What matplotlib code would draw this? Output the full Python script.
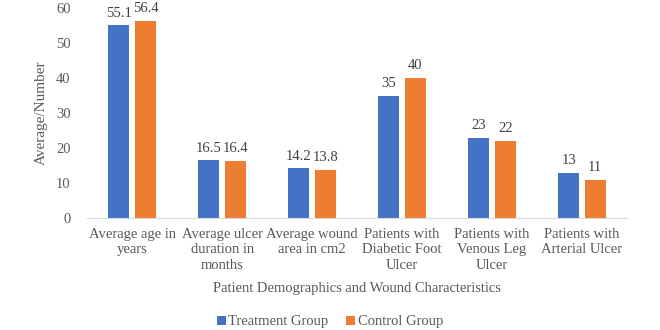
import numpy as np
import matplotlib
matplotlib.use("Agg")
import matplotlib.pyplot as plt

categories = ["Average age in\nyears", "Average ulcer\nduration in\nmonths",
              "Average wound\narea in cm2", "Patients with\nDiabetic Foot\nUlcer",
              "Patients with\nVenous Leg\nUlcer", "Patients with\nArterial Ulcer"]
treatment = [55.1, 16.5, 14.2, 35, 23, 13]
control = [56.4, 16.4, 13.8, 40, 22, 11]
treatment_labels = ["55.1", "16.5", "14.2", "35", "23", "13"]
control_labels = ["56.4", "16.4", "13.8", "40", "22", "11"]

plt.rcParams["font.family"] = ["Liberation Serif", "DejaVu Serif"]
txt = "#595959"

fig = plt.figure(figsize=(6.6, 3.3), dpi=100)
ax = fig.add_axes([0.132, 0.339, 0.818, 0.637])

x = np.arange(len(categories))
w = 0.235
b1 = ax.bar(x - w / 2 - 0.03, treatment, w, color="#4472C4", label="Treatment Group")
b2 = ax.bar(x + w / 2 + 0.03, control, w, color="#ED7D31", label="Control Group")
ax.bar_label(b1, labels=treatment_labels, padding=4, fontsize=10.5, color="#404040")
ax.bar_label(b2, labels=control_labels, padding=4, fontsize=10.5, color="#404040")

ax.set_xlim(-0.5, len(categories) - 0.5)
ax.set_ylim(0, 60)
ax.set_yticks(range(0, 61, 10))
ax.set_xticks(x)
ax.set_xticklabels(categories, fontsize=10.5, color=txt, linespacing=1.25)
ax.tick_params(axis="y", labelsize=10.5, labelcolor=txt, length=0, pad=12)
ax.tick_params(axis="x", length=0, pad=7)
for s in ["top", "right", "left"]:
    ax.spines[s].set_visible(False)
ax.spines["bottom"].set_color("#d9d9d9")

ax.set_ylabel("Average/Number", fontsize=11, color=txt, labelpad=6)
ax.set_xlabel("Patient Demographics and Wound Characteristics", fontsize=10.5,
              color=txt, labelpad=7)

fig.legend(loc="lower center", bbox_to_anchor=(0.5, -0.035), ncol=2, frameon=False,
           fontsize=10.5, labelcolor=txt, handlelength=0.6, handleheight=0.6,
           handletextpad=0.2, columnspacing=1.2)

fig.savefig("out.png", dpi=100)
